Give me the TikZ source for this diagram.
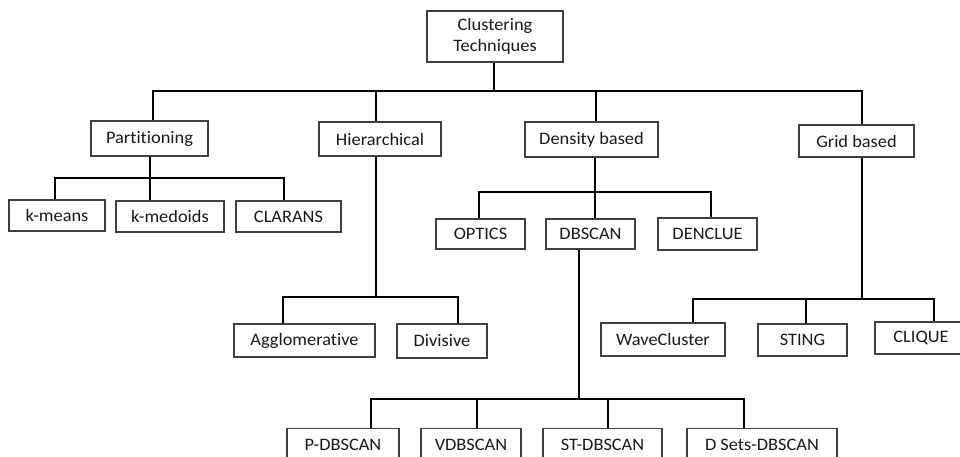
\documentclass[tikz,border=0pt]{standalone}
\usepackage{fontspec}
\setmainfont{Carlito}[FakeStretch=1.05, Ligatures={NoCommon,NoRare,NoContextual}]
\begin{document}
\begin{tikzpicture}[x=1pt,y=-1pt,
  box/.style={draw=black!75, line width=1.1pt, inner sep=0pt, text=black!90,
    font=\fontsize{17.5}{20.5}\selectfont},
  conn/.style={line width=2pt, black, line join=miter}]
\useasboundingbox[fill=white] (0,0) rectangle (960,456);
% nodes
\node[box, minimum width=136pt, minimum height=51pt, align=center] (root) at (495,36.5) {Clustering\\Techniques};
\node[box, minimum width=117pt, minimum height=35pt] (part) at (149.5,138.5) {Partitioning};
\node[box, minimum width=122pt, minimum height=34pt] (hier) at (380,139) {Hierarchical};
\node[box, minimum width=133pt, minimum height=35pt] (dens) at (591.5,139.5) {Density based};
\node[box, minimum width=115pt, minimum height=32pt] (grid) at (856.5,141) {Grid based};
\node[box, minimum width=96pt, minimum height=31pt] (kmeans) at (57,215.5) {k-means};
\node[box, minimum width=108pt, minimum height=31pt] (kmedoids) at (170,216.5) {k-medoids};
\node[box, minimum width=105pt, minimum height=31pt] (clarans) at (288.5,216.5) {CLARANS};
\node[box, minimum width=89pt, minimum height=30pt] (optics) at (480.5,234) {OPTICS};
\node[box, minimum width=89pt, minimum height=30pt] (dbscan) at (590.5,234) {DBSCAN};
\node[box, minimum width=99pt, minimum height=32pt] (denclue) at (707.5,234) {DENCLUE};
\node[box, minimum width=141pt, minimum height=33pt] (agglo) at (304.5,340.5) {Agglomerative};
\node[box, minimum width=90pt, minimum height=34pt] (divisive) at (442,341) {Divisive};
\node[box, minimum width=124pt, minimum height=33pt] (wave) at (663,339.5) {WaveCluster};
\node[box, minimum width=89pt, minimum height=32pt] (sting) at (802.5,340) {STING};
\node[box, minimum width=92pt, minimum height=32pt] (clique) at (921,338) {CLIQUE};
\node[box, minimum width=112pt, minimum height=32pt] (pdb) at (343,444.5) {P-DBSCAN};
\node[box, minimum width=100pt, minimum height=32pt] (vdb) at (471,444.5) {VDBSCAN};
\node[box, minimum width=119pt, minimum height=32pt] (stdb) at (602.5,444.5) {ST-DBSCAN};
\node[box, minimum width=150pt, minimum height=32pt] (dsets) at (762,444.5) {D Sets-DBSCAN};
% junction coordinates
\coordinate (j0) at (494,91);
\coordinate (j1) at (153,91);
\coordinate (j2) at (375.5,91);
\coordinate (j3) at (596,91);
\coordinate (j4) at (862,91);
\coordinate (pa) at (55,178);
\coordinate (pb) at (150,178);
\coordinate (pc) at (284,178);
\coordinate (ha) at (283,297);
\coordinate (hb) at (375.5,297);
\coordinate (hc) at (458,297);
\coordinate (da) at (479,192);
\coordinate (db) at (595,192);
\coordinate (dc) at (711,192);
\coordinate (ea) at (371,398.5);
\coordinate (ev) at (477,398.5);
\coordinate (eb) at (578.5,398.5);
\coordinate (ec) at (608,398.5);
\coordinate (ed) at (744,398.5);
\coordinate (ga) at (693,299);
\coordinate (gs) at (806,299);
\coordinate (gb) at (862,299);
\coordinate (gd) at (934,299);
% level 1
\draw[conn] (root.south -| j0) -- (j0);
\draw[conn] (part.north -| j1) -- (j1) -- (j4) -- (grid.north -| j4);
\draw[conn] (j2) -- (hier.north -| j2);
\draw[conn] (j3) -- (dens.north -| j3);
% partitioning
\draw[conn] (part.south -| pb) -- (kmedoids.north -| pb);
\draw[conn] (kmeans.north -| pa) -- (pa) -- (pc) -- (clarans.north -| pc);
% hierarchical
\draw[conn] (hier.south -| hb) -- (hb);
\draw[conn] (agglo.north -| ha) -- (ha) -- (hc) -- (divisive.north -| hc);
% density
\draw[conn] (dens.south -| db) -- (dbscan.north -| db);
\draw[conn] (optics.north -| da) -- (da) -- (dc) -- (denclue.north -| dc);
% dbscan
\draw[conn] (dbscan.south -| eb) -- (eb);
\draw[conn] (pdb.north -| ea) -- (ea) -- (ed) -- (dsets.north -| ed);
\draw[conn] (ev) -- (vdb.north -| ev);
\draw[conn] (ec) -- (stdb.north -| ec);
% grid
\draw[conn] (grid.south -| gb) -- (gb);
\draw[conn] (wave.north -| ga) -- (ga) -- (gd) -- (clique.north -| gd);
\draw[conn] (gs) -- (sting.north -| gs);
\end{tikzpicture}
\end{document}
